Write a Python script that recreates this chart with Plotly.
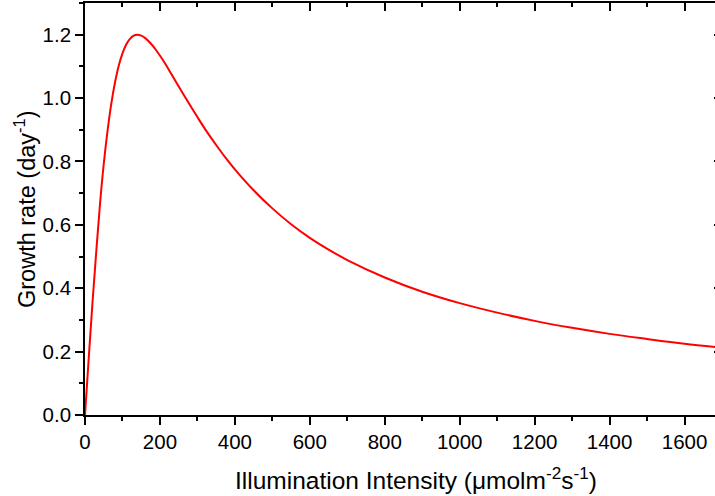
import plotly.graph_objects as go

# Growth rate versus illumination intensity
intensity = [0, 10, 20, 30, 40, 50, 60, 70, 80, 90, 100, 110, 120, 130, 140,
             150, 160, 175, 190, 210, 230, 255, 280, 300, 325, 350, 375, 400,
             450, 500, 550, 600, 650, 700, 800, 900, 1000, 1100, 1200, 1300,
             1400, 1500, 1600, 1700]
growth = [0.0, 0.18, 0.355, 0.515, 0.665, 0.792, 0.895, 0.981, 1.049, 1.102,
          1.141, 1.169, 1.187, 1.197, 1.200, 1.197, 1.190, 1.173, 1.151,
          1.116, 1.077, 1.027, 0.978, 0.940, 0.894, 0.852, 0.812, 0.775,
          0.709, 0.652, 0.602, 0.559, 0.522, 0.489, 0.434, 0.389, 0.353,
          0.323, 0.297, 0.275, 0.256, 0.240, 0.225, 0.2125]

x_range = [0, 1700]
y_range = [0, 1.3]

FONT = "Liberation Sans, Arial, sans-serif"


def frame_axis(**kw):
    base = dict(showgrid=False, zeroline=False, showline=True,
                linecolor="black", linewidth=1.6, tickwidth=1.5,
                tickcolor="black", ticklen=8)
    base.update(kw)
    return base


fig = go.Figure()
fig.add_trace(go.Scatter(
    x=intensity, y=growth, mode="lines",
    line=dict(color="#ff0000", width=2, shape="spline", smoothing=1.0),
    showlegend=False, hoverinfo="x+y",
))
# companion trace so the top/right frame axes get drawn
fig.add_trace(go.Scatter(
    x=intensity, y=growth, xaxis="x2", yaxis="y2", mode="lines",
    line=dict(width=0), opacity=0, showlegend=False, hoverinfo="skip",
))

fig.update_layout(
    width=722, height=496,
    margin=dict(l=85, r=0, t=3, b=81),
    paper_bgcolor="white", plot_bgcolor="white",
    font=dict(family=FONT, size=20.5, color="black"),
    xaxis=frame_axis(
        range=x_range, dtick=200, tick0=0, ticks="outside",
        minor=dict(dtick=100, ticks="outside", ticklen=4, tickwidth=1.5,
                   tickcolor="black", showgrid=False),
        tickfont=dict(size=20.5),
    ),
    yaxis=frame_axis(
        range=y_range, dtick=0.2, tick0=0, tickformat=".1f", ticks="outside",
        minor=dict(dtick=0.1, ticks="outside", ticklen=4, tickwidth=1.5,
                   tickcolor="black", showgrid=False),
        tickfont=dict(size=20.5),
    ),
    xaxis2=frame_axis(
        overlaying="x", side="top", anchor="y2", range=x_range, dtick=200,
        tick0=0, showticklabels=False, ticks="inside",
        minor=dict(dtick=100, ticks="inside", ticklen=4, tickwidth=1.5,
                   tickcolor="black", showgrid=False),
    ),
    yaxis2=frame_axis(
        overlaying="y", side="right", anchor="x2", range=y_range, dtick=0.2,
        tick0=0, showticklabels=False, ticks="inside",
        minor=dict(dtick=0.1, ticks="inside", ticklen=4, tickwidth=1.5,
                   tickcolor="black", showgrid=False),
    ),
    annotations=[
        dict(text="Illumination Intensity (μmolm<sup>-2</sup>s<sup>-1</sup>)",
             xref="paper", yref="paper", x=0.5196, y=-0.155,
             xanchor="center", yanchor="middle", showarrow=False,
             font=dict(size=24.5)),
        dict(text="Growth rate (day<sup>-1</sup>)",
             xref="paper", yref="paper", x=-0.0942, y=0.5,
             xanchor="center", yanchor="middle", textangle=-90,
             showarrow=False, font=dict(size=23.5)),
    ],
)

fig.write_html(
    "out.html",
    config={"displayModeBar": False},
    post_script="document.documentElement.style.overflow='hidden';"
                "document.body.style.overflow='hidden';"
                "document.body.style.margin='0';",
)
